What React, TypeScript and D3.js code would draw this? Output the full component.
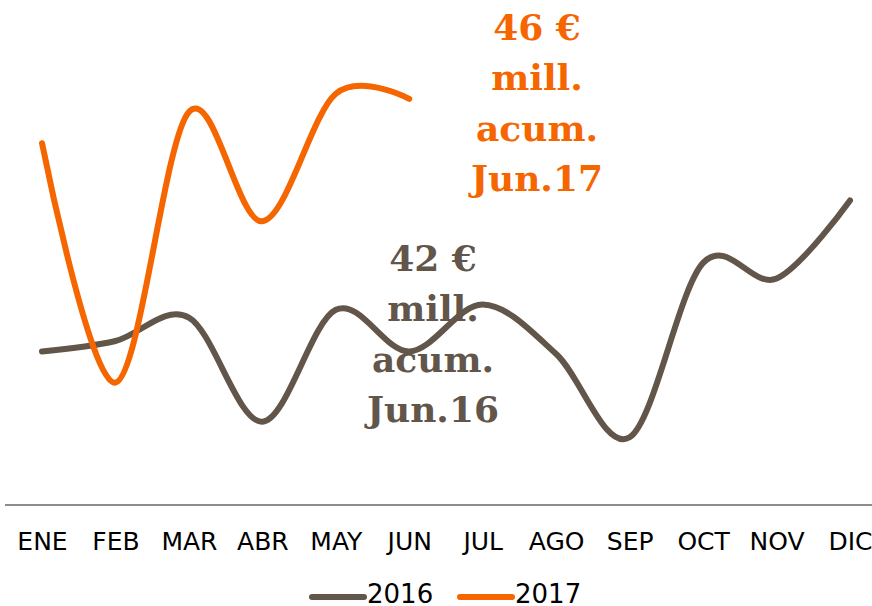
import React, { useRef, useEffect } from 'react';
import * as d3 from 'd3';

// months on the x axis
const months = ['ENE', 'FEB', 'MAR', 'ABR', 'MAY', 'JUN', 'JUL', 'AGO', 'SEP', 'OCT', 'NOV', 'DIC'];
// monthly values (mill. €)
const values2016 = [6.99, 7.03, 7.12, 6.72, 7.15, 6.99, 7.17, 6.98, 6.66, 7.33, 7.27, 7.57];
const values2017 = [7.79, 6.87, 7.91, 7.49, 7.98, 7.96];
const seriesNames = ['2016', '2017'];
const note2016 = ['42 €', 'mill.', 'acum.', 'Jun.16'];
const note2017 = ['46 €', 'mill.', 'acum.', 'Jun.17'];

const BROWN = '#62554a';
const ORANGE = '#f56600';

const App = () => {
  const svgRef = useRef<SVGSVGElement>(null);
  const width = 872;
  const height = 606;

  useEffect(() => {
    const svg = d3.select(svgRef.current);
    svg.selectAll('*').remove();

    const x = d3.scalePoint<string>().domain(months).range([42, 850]);
    const y = d3.scaleLinear().domain([6.4, 8.34]).range([505, 0]);

    // annotations (lines go over them)
    const notes = [
      { lines: note2016, color: BROWN, cx: 433, top: 271 },
      { lines: note2017, color: ORANGE, cx: 537, top: 40 },
    ];
    notes.forEach(n => {
      svg.append('text')
        .attr('x', n.cx)
        .attr('y', n.top)
        .attr('text-anchor', 'middle')
        .attr('fill', n.color)
        .style('font-family', '"DejaVu Serif", serif')
        .style('font-weight', 'bold')
        .style('font-size', '36px')
        .selectAll('tspan')
        .data(n.lines)
        .enter().append('tspan')
        .attr('x', n.cx)
        .attr('dy', (_d, i) => (i === 0 ? 0 : 50.3))
        .text(d => d);
    });

    // x axis
    const axis = svg.append('g')
      .attr('transform', 'translate(0,505)')
      .call(d3.axisBottom(x).tickSize(0).tickPadding(27));
    axis.select('.domain').remove();
    axis.append('line')
      .attr('x1', 5).attr('x2', 872)
      .attr('stroke', '#8c8c8c').attr('stroke-width', 2);
    axis.selectAll('.tick text')
      .attr('fill', '#000')
      .style('font-family', '"DejaVu Sans", sans-serif')
      .style('font-size', '25px');

    const line = d3.line<number>()
      .x((_d, i) => x(months[i]) as number)
      .y(d => y(d))
      .curve(d3.curveCatmullRom.alpha(0));

    [[values2016, BROWN], [values2017, ORANGE]].forEach(([vals, color]) => {
      svg.append('path')
        .datum(vals as number[])
        .attr('d', line)
        .attr('fill', 'none')
        .attr('stroke', color as string)
        .attr('stroke-width', 6)
        .attr('stroke-linecap', 'round');
    });

    // legend
    const legend = svg.append('g');
    const legendX = [310, 458];
    seriesNames.forEach((name, i) => {
      const g = legend.append('g').attr('transform', `translate(${legendX[i]},597)`);
      g.append('line')
        .attr('x1', 2).attr('x2', 54)
        .attr('stroke', i === 0 ? BROWN : ORANGE)
        .attr('stroke-width', 6)
        .attr('stroke-linecap', 'round');
      g.append('text')
        .attr('x', 57)
        .attr('y', 6)
        .attr('fill', '#000')
        .style('font-family', '"DejaVu Sans", sans-serif')
        .style('font-size', '26px')
        .text(name);
    });
  }, []);

  return (
    <svg ref={svgRef} width={width} height={height}
      style={{ position: 'absolute', left: 0, top: 0, background: '#fff' }} />
  );
};

export default App;
